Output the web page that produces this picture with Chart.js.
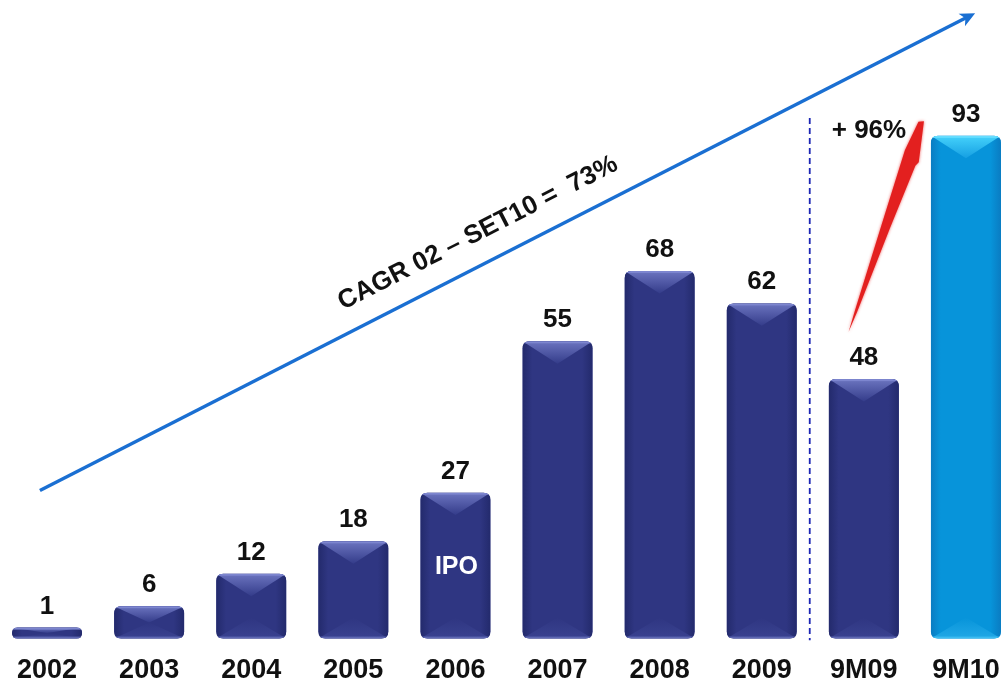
<!DOCTYPE html>
<html>
<head>
<meta charset="utf-8">
<script src="https://cdn.jsdelivr.net/npm/chart.js@4.4.1/dist/chart.umd.min.js"></script>
<style>
  html, body { margin:0; padding:0; background:#ffffff; overflow:hidden; width:1002px; height:684px; }
  #wrap { position:absolute; left:-4px; top:0; width:1021px; height:703px; }
</style>
</head>
<body>
<div id="wrap"><canvas id="c"></canvas></div>
<script>
// ---- data ----
const categories = ['2002','2003','2004','2005','2006','2007','2008','2009','9M09','9M10'];
const values     = [1, 6, 12, 18, 27, 55, 68, 62, 48, 93];
const highlight  = [false,false,false,false,false,false,false,false,false,true];
const barNotes   = ['', '', '', '', 'IPO', '', '', '', '', ''];
const cagrText   = 'CAGR 02 – SET10 =  73%';
const growthText = '+ 96%';

const FONT = '"Liberation Sans", Arial, Helvetica, sans-serif';

function roundRectPath(ctx, x, y, w, h, r) {
  r = Math.min(r, w/2, h/2);
  ctx.beginPath();
  ctx.moveTo(x + r, y);
  ctx.lineTo(x + w - r, y);
  ctx.quadraticCurveTo(x + w, y, x + w, y + r);
  ctx.lineTo(x + w, y + h - r);
  ctx.quadraticCurveTo(x + w, y + h, x + w - r, y + h);
  ctx.lineTo(x + r, y + h);
  ctx.quadraticCurveTo(x, y + h, x, y + h - r);
  ctx.lineTo(x, y + r);
  ctx.quadraticCurveTo(x, y, x + r, y);
  ctx.closePath();
}

const bevelPlugin = {
  id: 'bevel',
  afterDatasetsDraw(chart) {
    const ctx = chart.ctx;
    const meta = chart.getDatasetMeta(0);
    meta.data.forEach((el, i) => {
      const p = el.getProps(['x','y','base','width'], true);
      const l = p.x - p.width/2, t = p.y, w = p.width, h = p.base - t;
      const hi = highlight[i];
      const pal = hi
        ? {main:'#0794da', dark:'#0a7cc2', light:'#45d2fb', light2:'#159fe2', bot:'#22a8e6', edge:'#66ddff', botEdge:'#3cbcf0'}
        : {main:'#2f3682', dark:'#232a6c', light:'#6c75c0', light2:'#343c8a', bot:'#3a4290', edge:'#7d86cf', botEdge:'#5e67b2'};
      ctx.save();
      roundRectPath(ctx, l, t, w, h, 7);
      ctx.clip();
      const g = ctx.createLinearGradient(l, 0, l + w, 0);
      g.addColorStop(0, pal.dark);
      g.addColorStop(0.14, pal.main);
      g.addColorStop(0.85, pal.main);
      g.addColorStop(1, pal.dark);
      ctx.fillStyle = g;
      ctx.fillRect(l, t, w, h);
      // top bevel
      const d = Math.min(w * 0.32, h * 0.5);
      const gt = ctx.createLinearGradient(0, t, 0, t + d);
      gt.addColorStop(0, pal.light);
      gt.addColorStop(1, pal.light2);
      ctx.fillStyle = gt;
      ctx.beginPath();
      ctx.moveTo(l, t);
      ctx.lineTo(l + w, t);
      ctx.lineTo(l + w/2, t + d);
      ctx.closePath();
      ctx.fill();
      // bottom bevel
      const db = Math.min(w * 0.3, h * 0.5);
      const gb = ctx.createLinearGradient(0, p.base, 0, p.base - db);
      gb.addColorStop(0, pal.bot);
      gb.addColorStop(1, pal.main);
      ctx.fillStyle = gb;
      ctx.beginPath();
      ctx.moveTo(l, p.base);
      ctx.lineTo(l + w, p.base);
      ctx.lineTo(l + w/2, p.base - db);
      ctx.closePath();
      ctx.fill();
      ctx.fillStyle = pal.edge;
      ctx.fillRect(l, t, w, 2);
      ctx.fillStyle = pal.botEdge;
      ctx.fillRect(l, p.base - 2, w, 2);
      ctx.restore();

      ctx.save();
      ctx.fillStyle = '#111111';
      ctx.font = 'bold 26px ' + FONT;
      ctx.textAlign = 'center';
      ctx.textBaseline = 'alphabetic';
      ctx.fillText(String(values[i]), p.x, t - 14);
      if (barNotes[i]) {
        ctx.fillStyle = '#ffffff';
        ctx.font = 'bold 25px ' + FONT;
        ctx.textBaseline = 'middle';
        ctx.fillText(barNotes[i], p.x + 1, (t + p.base) / 2 + 1);
      }
      ctx.restore();
    });
  }
};

const annotPlugin = {
  id: 'annot',
  afterDraw(chart) {
    const ctx = chart.ctx;
    const xs = chart.scales.x, ys = chart.scales.y;
    const X = (idx) => {
      const f = Math.floor(idx);
      const a = xs.getPixelForValue(f);
      const b = xs.getPixelForValue(f + 1);
      return a + (b - a) * (idx - f);
    };
    const Y = (v) => ys.getPixelForValue(v);

    // blue CAGR arrow
    const x1 = X(-0.07), y1 = Y(27.4), x2 = X(9.09), y2 = Y(115.7);
    const ang = Math.atan2(y2 - y1, x2 - x1);
    ctx.save();
    ctx.strokeStyle = '#1a6fd2';
    ctx.fillStyle = '#1a6fd2';
    ctx.lineWidth = 3.5;
    ctx.beginPath();
    ctx.moveTo(x1, y1);
    ctx.lineTo(x2 - 8 * Math.cos(ang), y2 - 8 * Math.sin(ang));
    ctx.stroke();
    ctx.translate(x2, y2);
    ctx.rotate(ang);
    ctx.beginPath();
    ctx.moveTo(0, 0);
    ctx.lineTo(-15, -7);
    ctx.lineTo(-11, 0);
    ctx.lineTo(-15, 7);
    ctx.closePath();
    ctx.fill();
    ctx.restore();

    // CAGR text
    ctx.save();
    ctx.translate(X(4.22), Y(75));
    ctx.rotate(ang);
    ctx.fillStyle = '#111111';
    ctx.font = 'bold 26px ' + FONT;
    ctx.textAlign = 'center';
    ctx.textBaseline = 'middle';
    ctx.fillText(cagrText, 0, 0);
    ctx.restore();

    // dashed separator
    const xd = X(7.47);
    ctx.save();
    ctx.strokeStyle = '#1c26b4';
    ctx.lineWidth = 1.8;
    ctx.setLineDash([6, 4]);
    ctx.beginPath();
    ctx.moveTo(xd, Y(96.3));
    ctx.lineTo(xd, Y(-0.3));
    ctx.stroke();
    ctx.restore();

    // red growth arrow
    const rx1 = X(7.85), ry1 = Y(56.7), rx2 = X(8.57), ry2 = Y(95.8);
    const dx = rx2 - rx1, dy = ry2 - ry1, L = Math.hypot(dx, dy);
    const ux = dx / L, uy = dy / L, nx = -uy, ny = ux;
    const pt = (s, o) => [rx1 + ux * s + nx * o, ry1 + uy * s + ny * o];
    const poly = [pt(0, 0), pt(L * 0.1, 1.5), pt(L * 0.5, 5), pt(L * 0.8, 8.5), pt(L * 0.82, 10.5),
                  pt(L, 2), pt(L * 0.99, -3), pt(L * 0.85, -6.5), pt(L * 0.5, -4), pt(L * 0.1, -1)];
    ctx.save();
    ctx.fillStyle = '#e3201f';
    ctx.shadowColor = 'rgba(235,50,50,0.8)';
    ctx.shadowBlur = 3;
    ctx.beginPath();
    poly.forEach((q, k) => k ? ctx.lineTo(q[0], q[1]) : ctx.moveTo(q[0], q[1]));
    ctx.closePath();
    ctx.fill();
    ctx.restore();

    // +96% label
    ctx.save();
    ctx.fillStyle = '#111111';
    ctx.font = 'bold 26px ' + FONT;
    ctx.textAlign = 'center';
    ctx.textBaseline = 'middle';
    ctx.fillText(growthText, X(8.05), Y(93.9));
    ctx.restore();
  }
};

new Chart(document.getElementById('c'), {
  type: 'bar',
  data: {
    labels: categories,
    datasets: [{
      data: values,
      backgroundColor: values.map((v, i) => highlight[i] ? '#0794da' : '#2f3682'),
      borderRadius: 7,
      borderSkipped: false,
      minBarLength: 11,
      barPercentage: 0.686,
      categoryPercentage: 1.0
    }]
  },
  options: {
    responsive: true,
    maintainAspectRatio: false,
    animation: false,
    layout: { padding: { top: 98, bottom: 0, left: 0, right: 0 } },
    plugins: { legend: { display: false }, tooltip: { enabled: false } },
    scales: {
      x: {
        grid: { display: false, drawTicks: false },
        border: { display: false },
        ticks: { color: '#111111', font: { family: FONT, size: 27, weight: 'bold' }, padding: 16, maxRotation: 0, autoSkip: false }
      },
      y: { display: false, min: 0, max: 100 }
    }
  },
  plugins: [bevelPlugin, annotPlugin]
});
</script>
</body>
</html>
